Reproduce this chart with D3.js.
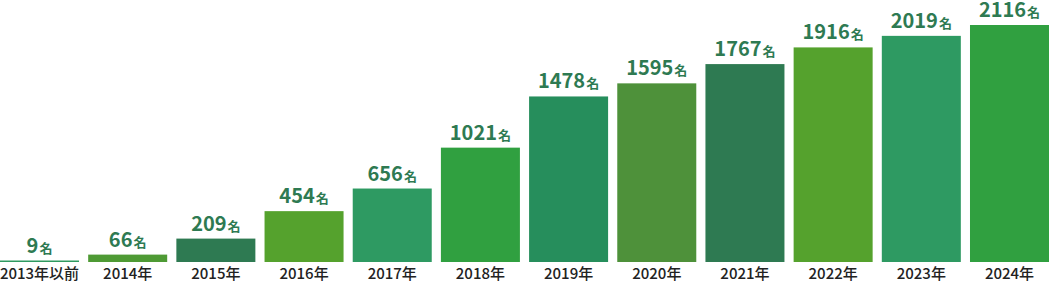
<!DOCTYPE html>
<html>
<head>
<meta charset="utf-8">
<script src="https://cdn.jsdelivr.net/npm/d3@7"></script>
<style>
    html, body { margin: 0; padding: 0; background: #fff; }
    svg { display: block; font-family: "Noto Sans CJK JP", "Noto Sans", sans-serif; }
</style>
</head>
<body>
<div id="chart"></div>
<script>
const years = ['2013年以前', '2014年', '2015年', '2016年', '2017年', '2018年',
    '2019年', '2020年', '2021年', '2022年', '2023年', '2024年'];
const counts = [9, 66, 209, 454, 656, 1021, 1478, 1595, 1767, 1916, 2019, 2116];
const barColors = ['#2e9a60', '#4e9a34', '#2e7a52', '#55a22d', '#2e9a62', '#30a040',
    '#268e5c', '#4e913a', '#2e7a52', '#55a22d', '#2e9a62', '#30a040'];

const width = 1049;
const height = 281;
const baseline = 262;
const labelColor = '#2e7a52';

const entries = years.map((y, i) => ({year: y, count: counts[i], color: barColors[i]}));

const svg = d3.select('#chart')
    .append('svg')
    .attr('width', width)
    .attr('height', height);

const x = d3.scaleBand()
    .domain(years)
    .range([0, width])
    .paddingInner(0.104)
    .paddingOuter(0);

const y = d3.scaleLinear()
    .domain([0, 2116])
    .range([baseline, 25]);

// bars (the tiny first one still shows as a thin line)
svg.append('g')
    .selectAll('rect')
    .data(entries)
    .enter()
    .append('rect')
    .attr('x', d => x(d.year))
    .attr('width', x.bandwidth())
    .attr('y', d => Math.min(y(d.count), baseline - 1.5))
    .attr('height', d => Math.max(baseline - y(d.count), 1.5))
    .attr('fill', d => d.color);

// value labels
const labels = svg.append('g')
    .selectAll('text')
    .data(entries)
    .enter()
    .append('text')
    .attr('x', d => x(d.year) + x.bandwidth() / 2)
    .attr('y', d => Math.min(y(d.count), baseline - 1) - 8)
    .attr('text-anchor', 'middle')
    .attr('fill', labelColor)
    .attr('font-weight', 700);

labels.append('tspan')
    .attr('font-size', 20)
    .text(d => d.count);
labels.append('tspan')
    .attr('font-size', 13)
    .attr('dx', 1)
    .text('名');

// x axis labels
const xAxis = svg.append('g')
    .attr('transform', 'translate(0,' + baseline + ')')
    .call(d3.axisBottom(x).tickSize(0).tickPadding(0));

xAxis.select('.domain').remove();
xAxis.selectAll('text')
    .attr('dy', null)
    .attr('y', 16.5)
    .attr('font-size', 15)
    .attr('font-weight', 500)
    .attr('font-family', '"Noto Sans CJK JP", "Noto Sans", sans-serif')
    .attr('fill', '#222');
</script>
</body>
</html>
